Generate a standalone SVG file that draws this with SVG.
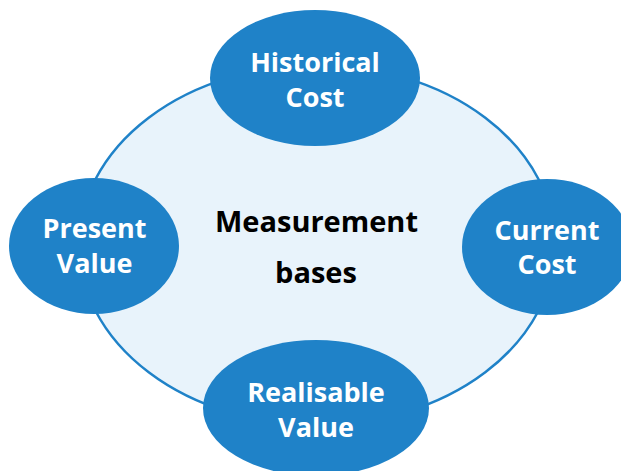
<svg xmlns="http://www.w3.org/2000/svg" width="621" height="471" viewBox="0 0 621 471">
<style>
.node{fill:#1F82C8;}
.lbl{font-family:"Open Sans","Noto Sans","Liberation Sans",sans-serif;font-weight:bold;font-size:27px;fill:#FFFFFF;text-anchor:middle;}
.center{font-family:"Open Sans","Noto Sans","Liberation Sans",sans-serif;font-weight:bold;font-size:29px;fill:#000000;text-anchor:middle;}
</style>
<rect width="621" height="471" fill="#FFFFFF"/>
<g id="connectors">
<ellipse cx="317" cy="245" rx="238" ry="180" fill="#E8F3FB" stroke="#1F82C8" stroke-width="2.5"/>
</g>
<g id="center">
<text class="center" x="316.5" y="232">Measurement</text>
<text class="center" x="316" y="283">bases</text>
</g>
<g id="historical-cost">
<ellipse class="node" cx="315" cy="78" rx="105" ry="68"/>
<text class="lbl" x="315" y="72">Historical</text>
<text class="lbl" x="315" y="107">Cost</text>
</g>
<g id="present-value">
<ellipse class="node" cx="94" cy="246" rx="85" ry="68"/>
<text class="lbl" x="94.5" y="238">Present</text>
<text class="lbl" x="94.5" y="273">Value</text>
</g>
<g id="current-cost">
<ellipse class="node" cx="547" cy="247" rx="85" ry="68"/>
<text class="lbl" x="547" y="240">Current</text>
<text class="lbl" x="547" y="274">Cost</text>
</g>
<g id="realisable-value">
<ellipse class="node" cx="316" cy="408" rx="113" ry="68"/>
<text class="lbl" x="316" y="402">Realisable</text>
<text class="lbl" x="316" y="437">Value</text>
</g>
</svg>
